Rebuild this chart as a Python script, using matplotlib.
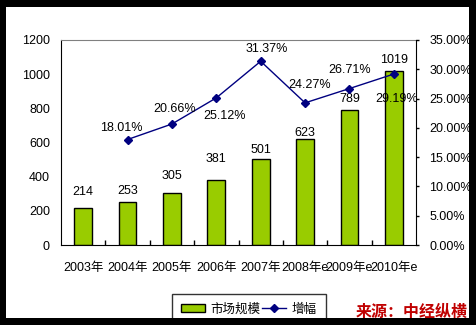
import matplotlib
matplotlib.use("Agg")
import matplotlib.pyplot as plt
from matplotlib.patches import Rectangle
import numpy as np

plt.rcParams['font.family'] = ['Liberation Sans', 'Noto Sans CJK SC', 'DejaVu Sans']
plt.rcParams['font.size'] = 9

years = ['2003年', '2004年', '2005年', '2006年', '2007年', '2008年e', '2009年e', '2010年e']
market_size = [214, 253, 305, 381, 501, 623, 789, 1019]
growth = [np.nan, 18.01, 20.66, 25.12, 31.37, 24.27, 26.71, 29.19]

# hand-placed label nudges (pixels), as in the original sheet
size_lbl_dy = [16, 11, 17, 21, 9, 6, 11.5, 10.5]
growth_lbl_off = [None, (-6, 12), (3, 15), (8, -18), (6, 12), (5, 18), (0, 19), (3, -25)]

W, H = 476, 325
fig = plt.figure(figsize=(W / 100, H / 100), dpi=100)
fig.patch.set_facecolor('white')

ax = fig.add_axes([61 / W, (H - 245) / H, (416 - 61) / W, (245 - 40) / H])
ax.set_facecolor('none')
x = np.arange(len(years))

bars = ax.bar(x, market_size, width=0.4, color='#99CC00', edgecolor='black',
              linewidth=1, label='市场规模', zorder=2)
for xi, v, dy in zip(x, market_size, size_lbl_dy):
    ax.annotate(str(v), (xi, v), xytext=(0, dy), textcoords='offset pixels',
                ha='center', va='center', fontsize=9)

ax.set_xlim(-0.5, len(years) - 0.5)
ax.set_ylim(0, 1200)
ax.set_yticks(range(0, 1201, 200))
ax.set_xticks(x)
ax.set_xticklabels(years)
ax.set_xticks(np.arange(0.5, len(years) - 0.5, 1), minor=True)
ax.tick_params(axis='x', which='major', length=0, pad=12)
ax.tick_params(axis='x', which='minor', direction='in', length=3.5, width=1)
ax.tick_params(axis='y', length=0, pad=8)
ax.spines['top'].set_color('#808080')
ax.spines['right'].set_visible(False)

ax2 = ax.twinx()
ax2.set_ylim(0, 35)
ax2.set_yticks(range(0, 36, 5))
ax2.set_yticklabels([f'{t:.2f}%' for t in range(0, 36, 5)])
ax2.tick_params(axis='y', direction='out', length=2.5, width=1, pad=7)
ax2.spines['top'].set_visible(False)
ax2.spines['left'].set_visible(False)
ax2.spines['bottom'].set_visible(False)

line, = ax2.plot(x, growth, color='#000080', linewidth=1, marker='D',
                 markersize=4.5, label='增幅', zorder=3)
for xi, g, off in zip(x, growth, growth_lbl_off):
    if off is None:
        continue
    ax2.annotate(f'{g:.2f}%', (xi, g), xytext=off, textcoords='offset pixels',
                 ha='center', va='center', fontsize=9)

leg = fig.legend([bars, line], ['市场规模', '增幅'], loc='upper left',
                 bbox_to_anchor=(172 / W, 1 - 294 / H), ncol=2, frameon=True,
                 fancybox=False, edgecolor='black', fontsize=9,
                 handlelength=1.9, handleheight=0.6, handletextpad=0.45,
                 columnspacing=0.1, borderpad=0.75, borderaxespad=0)
leg.get_frame().set_linewidth(1)

fig.text(468 / W, 1 - 312 / H, '来源：中经纵横', color='#C00000', fontsize=11.5,
         fontweight='bold', family=['Noto Sans CJK SC'], ha='right', va='center')

# black picture frame drawn on top, cutting off the legend's lower edge
for (x0, y0, w, h) in [(0, 0, W, 7), (0, 318, W, 7), (0, 0, 6, H), (469, 0, 7, H)]:
    fig.patches.append(Rectangle((x0 / W, 1 - (y0 + h) / H), w / W, h / H,
                                 transform=fig.transFigure, facecolor='black',
                                 edgecolor='none', zorder=20))

fig.savefig('out.png', dpi=100)
